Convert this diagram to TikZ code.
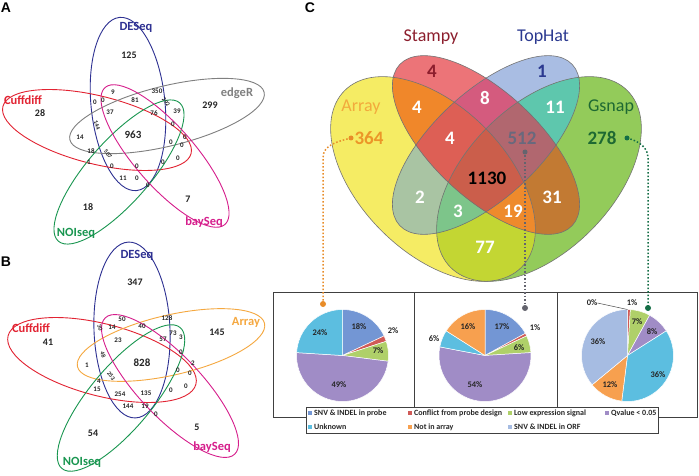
\documentclass[tikz,border=0pt]{standalone}
\usepackage{fontspec}
\setmainfont{Carlito}
\newfontfamily\hdfont{Liberation Sans}
\usetikzlibrary{calc}
% panel A/B colours
\definecolor{cDES}{RGB}{46,49,146}
\definecolor{cCuf}{RGB}{226,35,50}
\definecolor{cEdg}{RGB}{128,128,128}
\definecolor{cNOI}{RGB}{25,150,80}
\definecolor{cBay}{RGB}{214,30,140}
\definecolor{cArr}{RGB}{245,168,64}
% panel C region colours
\definecolor{rA}{RGB}{245,236,100}
\definecolor{rS}{RGB}{236,116,120}
\definecolor{rT}{RGB}{169,189,227}
\definecolor{rG}{RGB}{147,203,90}
\definecolor{rAS}{RGB}{240,135,42}
\definecolor{rAT}{RGB}{169,196,163}
\definecolor{rAG}{RGB}{195,214,51}
\definecolor{rST}{RGB}{212,91,126}
\definecolor{rSG}{RGB}{194,122,51}
\definecolor{rTG}{RGB}{94,199,173}
\definecolor{rAST}{RGB}{221,95,85}
\definecolor{rATG}{RGB}{125,197,138}
\definecolor{rASG}{RGB}{238,138,44}
\definecolor{rSTG}{RGB}{177,103,111}
\definecolor{rALL}{RGB}{203,94,75}
% text colours panel C
\definecolor{tArr}{RGB}{242,170,60}
\definecolor{tArrN}{RGB}{236,150,40}
\definecolor{tSta}{RGB}{140,30,45}
\definecolor{tTop}{RGB}{43,57,144}
\definecolor{tGsn}{RGB}{30,105,50}
\definecolor{tGrey}{RGB}{105,105,125}
\definecolor{dOr}{RGB}{232,140,40}
\definecolor{dGr}{RGB}{100,100,110}
\definecolor{dGn}{RGB}{20,110,70}
% pie colours
\definecolor{pBlue}{RGB}{115,150,212}
\definecolor{pRed}{RGB}{208,90,87}
\definecolor{pGreen}{RGB}{175,208,105}
\definecolor{pPurp}{RGB}{160,140,198}
\definecolor{pCyan}{RGB}{92,190,224}
\definecolor{pOrng}{RGB}{247,160,79}
\definecolor{pSteel}{RGB}{166,188,226}
\definecolor{boxc}{RGB}{64,64,64}
% panel C ellipse commands
\newcommand\clipCA{\clip[rotate around={-45:(433,179)}] (433,179) ellipse [x radius=125, y radius=73];}
\newcommand\fillCA[1]{\fill[#1,rotate around={-45:(433,179)}] (433,179) ellipse [x radius=125, y radius=73];}
\newcommand\clipCS{\clip[rotate around={-43:(486,145)}] (486,145) ellipse [x radius=118, y radius=53];}
\newcommand\fillCS[1]{\fill[#1,rotate around={-43:(486,145)}] (486,145) ellipse [x radius=118, y radius=53];}
\newcommand\clipCT{\clip[rotate around={43:(486,145)}] (486,145) ellipse [x radius=118, y radius=53];}
\newcommand\fillCT[1]{\fill[#1,rotate around={43:(486,145)}] (486,145) ellipse [x radius=118, y radius=53];}
\newcommand\clipCG{\clip[rotate around={45:(539,179)}] (539,179) ellipse [x radius=125, y radius=73];}
\newcommand\fillCG[1]{\fill[#1,rotate around={45:(539,179)}] (539,179) ellipse [x radius=125, y radius=73];}
% pie slice: cx, cy, start pct, end pct, colour
\newcommand\pslice[5]{\fill[#5, draw=white, line width=0.5pt] (#1,#2) -- ++({-90+3.6*#3}:46) arc[start angle={-90+3.6*#3}, end angle={-90+3.6*#4}, radius=46] -- cycle;}

\begin{document}
\begin{tikzpicture}[x=1pt,y=-1pt,
  sm/.style={font=\bfseries\fontsize{7}{7}\selectfont, text=black!85, inner sep=0},
  smr/.style={font=\bfseries\fontsize{6}{6}\selectfont, text=black!85, inner sep=0},
  md/.style={font=\bfseries\fontsize{10}{10}\selectfont, text=black!85, inner sep=0},
  bg/.style={font=\bfseries\fontsize{11}{11}\selectfont, text=black!85, inner sep=0},
  setlab/.style={font=\bfseries\fontsize{12.5}{12.5}\selectfont, inner sep=0},
  panlab/.style={font=\hdfont\bfseries\fontsize{14}{14}\selectfont, inner sep=0},
  vline/.style={line width=0.9pt},
  clab/.style={font=\fontsize{18}{18}\selectfont, inner sep=0},
  cnum/.style={font=\bfseries\fontsize{19}{19}\selectfont, inner sep=0, text=white},
  pct/.style={font=\bfseries\fontsize{8.5}{8.5}\selectfont, inner sep=0, text=black!85},
  lg/.style={font=\bfseries\fontsize{8}{8}\selectfont, inner sep=0, anchor=west, text=black!85},
  lgm/.style={minimum size=4pt, inner sep=0},
  cdot/.style={circle, inner sep=0, minimum size=6pt},
  conn/.style={line width=1.5pt, dotted},
  cedge/.style={draw=black!55, line width=0.6pt},
]
\useasboundingbox (0,0) rectangle (699,476);
\fill[white] (0,0) rectangle (699,476);

% ================= Panel A =================
\node[panlab] (labA) at (6,8) {A};
\draw[vline, cDES, rotate around={95.6:(128,104)}] (128,104) ellipse [x radius=87, y radius=37];
\draw[vline, cCuf, rotate around={-14:(97,130)}] (97,130) ellipse [x radius=97, y radius=34];
\draw[vline, cEdg, rotate around={13.8:(167,116)}] (167,116) ellipse [x radius=100, y radius=30];
\draw[vline, cNOI, rotate around={48.7:(119,172)}] (119,172) ellipse [x radius=92, y radius=31];
\draw[vline, cBay, rotate around={-48.8:(165,156)}] (165,156) ellipse [x radius=91, y radius=30];
\node[setlab, text=cCuf] (aCuf) at (23,100) {Cuffdiff};
\node[setlab, text=cDES] (aDES) at (136,27) {DESeq};
\node[setlab, text=cEdg] (aEdg) at (237,93) {edgeR};
\node[setlab, text=cNOI] (aNOI) at (76,233) {NOIseq};
\node[setlab, text=cBay] (aBay) at (204,222) {baySeq};
\node[md] (aN125) at (129,55) {125};
\node[md] (aN28) at (40,113) {28};
\node[md] (aN299) at (210,105) {299};
\node[md] (aN18) at (88,207) {18};
\node[md] (aN7) at (188,199) {7};
\node[bg] (a11) at (133,135) {963};
\node[sm] (a01) at (113,92) {9};
\node[sm] (a02) at (95,102) {0};
\node[sm] (a03) at (103,100) {0};
\node[sm] (a04) at (135,100) {81};
\node[sm] (a05) at (157,91) {350};
\node[smr, rotate=-50] (a06) at (166,102) {292};
\node[sm] (a07) at (177,111) {39};
\node[sm] (a08) at (110,112) {37};
\node[sm] (a09) at (154,113) {76};
\node[smr, rotate=-70] (a10) at (97,125) {144};
\node[sm] (a12) at (80,137) {14};
\node[sm] (a13) at (173,124) {0};
\node[sm] (a14) at (185,137) {0};
\node[sm] (a15) at (171,142) {0};
\node[sm] (a16) at (182,145) {0};
\node[sm] (a17) at (91,151) {18};
\node[smr, rotate=-50] (a18) at (108,154) {507};
\node[sm] (a19) at (89,162) {1};
\node[sm] (a20) at (112,166) {0};
\node[sm] (a21) at (163,162) {0};
\node[sm] (a22) at (178,158) {0};
\node[sm] (a23) at (137,166) {0};
\node[sm] (a24) at (123,178) {11};
\node[sm] (a25) at (137,178) {0};
\node[sm] (a26) at (148,185) {0};

% ================= Panel B =================
\node[panlab] (labB) at (6,262) {B};
\draw[vline, cDES, rotate around={92.3:(132,330)}] (132,330) ellipse [x radius=88, y radius=38];
\draw[vline, cCuf, rotate around={-14.5:(102,360)}] (102,360) ellipse [x radius=97, y radius=36];
\draw[vline, cArr, rotate around={13:(171,345)}] (171,345) ellipse [x radius=96, y radius=30];
\draw[vline, cNOI, rotate around={50:(121,398)}] (121,398) ellipse [x radius=92, y radius=31];
\draw[vline, cBay, rotate around={-46.5:(170,386)}] (170,386) ellipse [x radius=94, y radius=31];
\node[setlab, text=cDES] (bDES) at (137,255) {DESeq};
\node[setlab, text=cCuf] (bCuf) at (31,328) {Cuffdiff};
\node[setlab, text=cArr] (bArr) at (246,322) {Array};
\node[setlab, text=cNOI] (bNOI) at (82,462) {NOIseq};
\node[setlab, text=cBay] (bBay) at (212,447) {baySeq};
\node[md] (bN347) at (135,282) {347};
\node[md] (bN41) at (48,342) {41};
\node[md] (bN145) at (217,332) {145};
\node[md] (bN54) at (93,433) {54};
\node[md] (bN5) at (197,427) {5};
\node[bg] (b11) at (142,363) {828};
\node[sm] (b01) at (122,319) {50};
\node[sm] (b02) at (112,327) {14};
\node[smr, rotate=-70] (b03) at (100,328) {30};
\node[sm] (b04) at (142,326) {40};
\node[sm] (b05) at (167,318) {128};
\node[sm] (b06) at (118,340) {23};
\node[sm] (b07) at (163,339) {57};
\node[sm] (b08) at (173,333) {73};
\node[sm] (b09) at (181,337) {3};
\node[sm] (b10) at (181,352) {0};
\node[sm] (b12) at (87,365) {1};
\node[smr, rotate=-70] (b13) at (103,355) {48};
\node[sm] (b14) at (99,381) {4};
\node[smr, rotate=-55] (b15) at (111,376) {253};
\node[sm] (b16) at (193,363) {2};
\node[sm] (b17) at (190,373) {0};
\node[sm] (b18) at (178,370) {0};
\node[sm] (b19) at (186,386) {0};
\node[sm] (b20) at (171,390) {0};
\node[sm] (b21) at (97,389) {15};
\node[sm] (b22) at (120,394) {254};
\node[sm] (b23) at (146,393) {135};
\node[sm] (b24) at (128,406) {144};
\node[sm] (b25) at (145,406) {19};
\node[sm] (b26) at (156,414) {0};

% ================= Panel C =================
\node[panlab] (labC) at (310,8) {C};
% singles
\fillCA{rA} \fillCS{rS} \fillCT{rT} \fillCG{rG}
% pairs
\begin{scope}\clipCA \fillCS{rAS}\end{scope}
\begin{scope}\clipCA \fillCT{rAT}\end{scope}
\begin{scope}\clipCA \fillCG{rAG}\end{scope}
\begin{scope}\clipCS \fillCT{rST}\end{scope}
\begin{scope}\clipCS \fillCG{rSG}\end{scope}
\begin{scope}\clipCT \fillCG{rTG}\end{scope}
% triples
\begin{scope}\clipCA \clipCS \fillCT{rAST}\end{scope}
\begin{scope}\clipCA \clipCT \fillCG{rATG}\end{scope}
\begin{scope}\clipCA \clipCS \fillCG{rASG}\end{scope}
\begin{scope}\clipCS \clipCT \fillCG{rSTG}\end{scope}
% all four
\begin{scope}\clipCA \clipCS \clipCT \fillCG{rALL}\end{scope}
% outlines
\draw[cedge, rotate around={-45:(433,179)}] (433,179) ellipse [x radius=125, y radius=73];
\draw[cedge, rotate around={-43:(486,145)}] (486,145) ellipse [x radius=118, y radius=53];
\draw[cedge, rotate around={43:(486,145)}] (486,145) ellipse [x radius=118, y radius=53];
\draw[cedge, rotate around={45:(539,179)}] (539,179) ellipse [x radius=125, y radius=73];
% labels
\node[clab, text=tSta] (cSta) at (431,37) {Stampy};
\node[clab, text=tTop] (cTop) at (543,37) {TopHat};
\node[clab, text=tArr] (cArrL) at (361,107) {Array};
\node[clab, text=tGsn] (cGsnL) at (611,107) {Gsnap};
\node[cnum, text=tArrN] (c364) at (369,138) {364};
\node[cnum, text=tGsn] (c278) at (602,138) {278};
\node[cnum, text=tSta] (cS4) at (432,71) {4};
\node[cnum, text=tTop] (cT1) at (542,71) {1};
\node[cnum] (cAS) at (417,107) {4};
\node[cnum] (cST) at (485,98) {8};
\node[cnum] (cTG) at (555,107) {11};
\node[cnum] (cAST) at (450,138) {4};
\node[cnum, text=tGrey] (cSTG) at (522,138) {512};
\node[cnum, text=black] (cALL) at (487,178) {1130};
\node[cnum] (cAT) at (420,197) {2};
\node[cnum] (cATG) at (458,211) {3};
\node[cnum] (cASG) at (513,211) {19};
\node[cnum] (cSG) at (552,197) {31};
\node[cnum] (cAG) at (485,247) {77};

% ===== pie box =====
\draw[boxc, line width=1pt] (273,292) rectangle (697,417);
\draw[boxc, line width=1pt] (414,292) -- (414,417);
\draw[boxc, line width=1pt] (557,292) -- (557,417);

% pie 1
\pslice{342.5}{355.5}{0}{18}{pBlue}
\pslice{342.5}{355.5}{18}{20}{pRed}
\pslice{342.5}{355.5}{20}{27}{pGreen}
\pslice{342.5}{355.5}{27}{76}{pPurp}
\pslice{342.5}{355.5}{76}{100}{pCyan}
\node[pct] (p1a) at (359,327) {18\%};
\node[pct] (p1b) at (393,331) {2\%};
\node[pct] (p1c) at (378,351) {7\%};
\node[pct] (p1d) at (320,333) {24\%};
\node[pct] (p1e) at (339,385) {49\%};
% pie 2
\pslice{485}{355.5}{0}{17}{pBlue}
\pslice{485}{355.5}{17}{18}{pRed}
\pslice{485}{355.5}{18}{24}{pGreen}
\pslice{485}{355.5}{24}{78}{pPurp}
\pslice{485}{355.5}{78}{84}{pCyan}
\pslice{485}{355.5}{84}{100}{pOrng}
\node[pct] (p2a) at (502,327) {17\%};
\node[pct] (p2b) at (535,328) {1\%};
\node[pct] (p2c) at (519,348) {6\%};
\node[pct] (p2d) at (468,327) {16\%};
\node[pct] (p2e) at (434,339) {6\%};
\node[pct] (p2f) at (475,385) {54\%};
% pie 3
\pslice{627.5}{355.5}{0}{1}{pRed}
\pslice{627.5}{355.5}{1}{8}{pGreen}
\pslice{627.5}{355.5}{8}{16}{pPurp}
\pslice{627.5}{355.5}{16}{52}{pCyan}
\pslice{627.5}{355.5}{52}{64}{pOrng}
\pslice{627.5}{355.5}{64}{100}{pSteel}
\node[pct] (p3a) at (592,303) {0\%};
\node[pct] (p3b) at (632,303) {1\%};
\node[pct] (p3c) at (637,322) {7\%};
\node[pct] (p3d) at (652,332) {8\%};
\node[pct] (p3e) at (658,375) {36\%};
\node[pct] (p3f) at (610,385) {12\%};
\node[pct] (p3g) at (598,342) {36\%};
\coordinate (p3top) at (627.5,309.5);
\draw[black!70, line width=0.5pt] (p3a.east) -- (p3top);

% ===== connectors =====
\node[cdot, fill=dOr, minimum size=5pt] (od1) at (351,138) {};
\node[cdot, fill=dOr] (od2) at (323,304) {};
\coordinate (ob) at (323,158);
\draw[conn, dOr] (od1.center) to[out=195, in=90] (ob) -- (od2.center);
\node[cdot, fill=dGr, minimum size=5pt] (rd1) at (525,152) {};
\node[cdot, fill=dGr] (rd2) at (525,308) {};
\draw[conn, dGr] (rd1.center) -- (rd2.center);
\node[cdot, fill=dGn, minimum size=5pt] (gd1) at (627,138) {};
\node[cdot, fill=dGn] (gd2) at (648,308) {};
\coordinate (gb) at (648,158);
\draw[conn, dGn] (gd1.center) to[out=-15, in=90] (gb) -- (gd2.center);

% ===== legend =====
\node[draw=boxc, line width=1pt, fill=white, minimum width=352pt, minimum height=26pt, inner sep=0] (lgd) at (482,420) {};
\node[lgm, fill=pBlue] (lm1) at (310,413) {};
\node[lg] (lt1) at (314,413) {SNV \& INDEL in probe};
\node[lgm, fill=pRed] (lm2) at (410,413) {};
\node[lg] (lt2) at (414,413) {Conflict from probe design};
\node[lgm, fill=pGreen] (lm3) at (510,413) {};
\node[lg] (lt3) at (514,413) {Low expression signal};
\node[lgm, fill=pPurp] (lm4) at (607,413) {};
\node[lg] (lt4) at (611,413) {Qvalue < 0.05};
\node[lgm, fill=pCyan] (lm5) at (310,427) {};
\node[lg] (lt5) at (314,427) {Unknown};
\node[lgm, fill=pOrng] (lm6) at (410,427) {};
\node[lg] (lt6) at (414,427) {Not in array};
\node[lgm, fill=pSteel] (lm7) at (510,427) {};
\node[lg] (lt7) at (514,427) {SNV \& INDEL in ORF};
\end{tikzpicture}
\end{document}
